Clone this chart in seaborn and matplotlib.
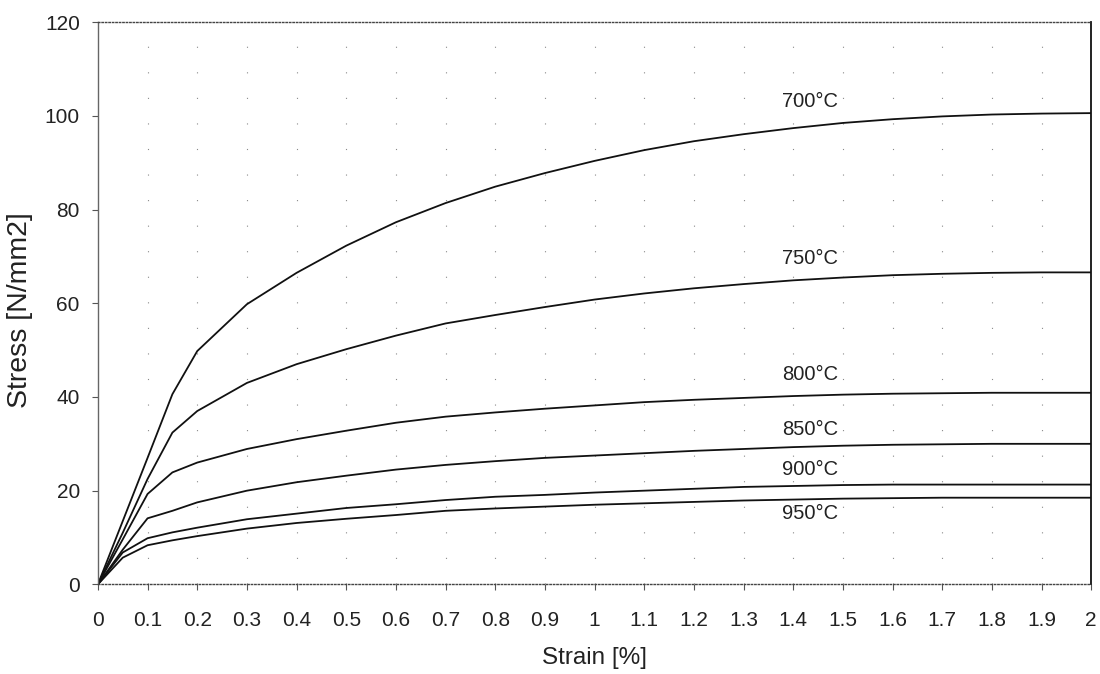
import numpy as np
import pandas as pd
import matplotlib
matplotlib.use("Agg")
import matplotlib.pyplot as plt
from matplotlib.ticker import FuncFormatter
import seaborn as sns

# Flow curves: stress [N/mm2] versus strain [%] at several temperatures
strain = [0, 0.05, 0.1, 0.15, 0.2, 0.3, 0.4, 0.5, 0.6, 0.7, 0.8, 0.9, 1.0,
          1.1, 1.2, 1.3, 1.4, 1.5, 1.6, 1.7, 1.8, 1.9, 2.0]

stress_700 = [0, 13.5, 27.0, 40.6, 49.8, 59.8, 66.5, 72.3, 77.3, 81.4, 84.9, 87.8,
              90.4, 92.7, 94.6, 96.1, 97.4, 98.5, 99.3, 99.9, 100.3, 100.5, 100.6]
stress_750 = [0, 11.0, 22.5, 32.4, 37.0, 43.0, 47.0, 50.2, 53.1, 55.7, 57.5, 59.2,
              60.8, 62.1, 63.2, 64.1, 64.9, 65.5, 66.0, 66.3, 66.5, 66.6, 66.6]
stress_800 = [0, 9.6, 19.3, 23.9, 26.0, 28.9, 31.0, 32.8, 34.5, 35.8, 36.7, 37.5,
              38.2, 38.9, 39.4, 39.8, 40.2, 40.5, 40.7, 40.8, 40.9, 40.9, 40.9]
stress_850 = [0, 7.4, 14.1, 15.7, 17.5, 20.0, 21.8, 23.2, 24.5, 25.5, 26.3, 27.0,
              27.5, 28.0, 28.5, 28.9, 29.3, 29.6, 29.8, 29.9, 30.0, 30.0, 30.0]
stress_900 = [0, 6.8, 9.85, 11.1, 12.1, 13.9, 15.1, 16.3, 17.1, 18.0, 18.7, 19.1,
              19.6, 20.0, 20.4, 20.8, 21.0, 21.2, 21.3, 21.3, 21.3, 21.3, 21.3]
stress_950 = [0, 5.7, 8.35, 9.4, 10.3, 11.9, 13.1, 14.0, 14.8, 15.7, 16.2, 16.6,
              17.0, 17.3, 17.6, 17.9, 18.1, 18.3, 18.4, 18.5, 18.5, 18.5, 18.5]

temperatures = ["700°C", "750°C", "800°C", "850°C", "900°C", "950°C"]
series = [stress_700, stress_750, stress_800, stress_850, stress_900, stress_950]

x_ticks = [round(0.1 * i, 1) for i in range(21)]
y_ticks = [0, 20, 40, 60, 80, 100, 120]

df = pd.concat(
    [pd.DataFrame({"strain": strain, "stress": s, "temp": t})
     for t, s in zip(temperatures, series)],
    ignore_index=True,
)

sns.set_theme(style="white")
plt.rcParams["font.family"] = ["Liberation Sans", "DejaVu Sans"]
text_col = "#222222"

fig = plt.figure(figsize=(11, 6.74), dpi=100)
ax = fig.add_axes([0.089, 0.133, 0.903, 0.834])

sns.lineplot(data=df, x="strain", y="stress", hue="temp",
             palette=["#111111"] * len(temperatures), linewidth=1.3,
             legend=False, ax=ax, sort=False)

ax.set_xlim(0, 2)
ax.set_ylim(0, 120)
ax.set_xticks(x_ticks)
ax.set_yticks(y_ticks)
ax.xaxis.set_major_formatter(FuncFormatter(lambda v, p: f"{v:g}"))

# sparse dotted vertical grid
for xv in x_ticks[1:-1]:
    ax.axvline(xv, color="#8a8a8a", lw=0.8, ls=(0, (1, 22)), zorder=0)

ax.tick_params(axis="both", which="major", direction="out", length=4,
               width=0.8, color="#555555", labelcolor=text_col, labelsize=15)
ax.tick_params(axis="x", pad=15)
ax.tick_params(axis="y", pad=9)
ax.xaxis.set_ticks_position("bottom")
ax.yaxis.set_ticks_position("left")

ax.set_xlabel("Strain [%]", fontsize=17.5, color=text_col)
ax.set_ylabel("Stress [N/mm2]", fontsize=20.5, color=text_col)
ax.xaxis.set_label_coords(0.5, -0.112)
ax.yaxis.set_label_coords(-0.065, 0.487)

for side in ["top", "bottom"]:
    ax.spines[side].set_linestyle((0, (1, 1.5)))
    ax.spines[side].set_color("#444444")
    ax.spines[side].set_linewidth(1.0)
ax.spines["left"].set_color("#666666")
ax.spines["left"].set_linewidth(1.0)
ax.spines["right"].set_color("#111111")
ax.spines["right"].set_linewidth(1.3)

# curve labels near strain 1.5, just above (or below) each curve
label_x = 1.49
label_offsets = [15.7, 13.8, 14.8, 11.5, 11.0, -10.5]
for t, s, off in zip(temperatures, series, label_offsets):
    yv = float(np.interp(label_x, strain, s))
    ax.annotate(t, xy=(label_x, yv), xytext=(0, off), textcoords="offset points",
                ha="right", va="center", fontsize=14.5, color=text_col)

fig.savefig("out.png", dpi=100, facecolor="white")
